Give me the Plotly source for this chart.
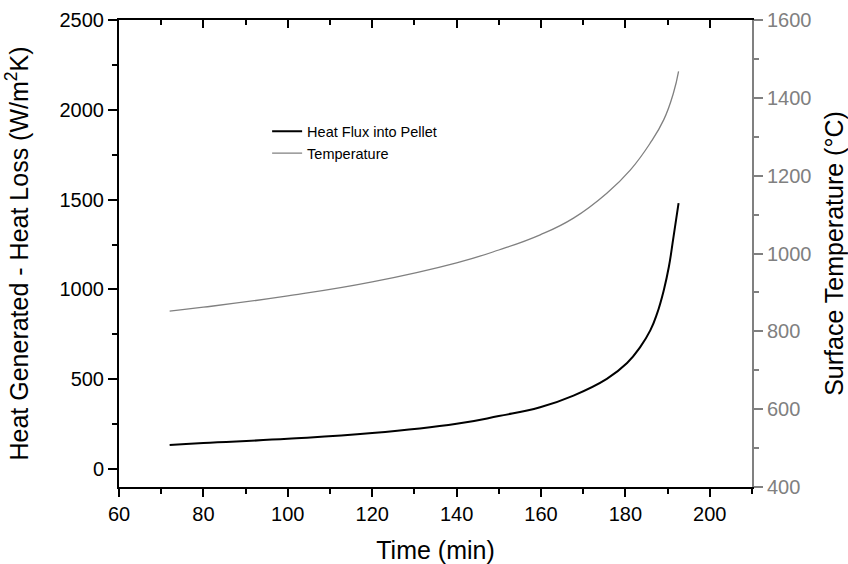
import plotly.graph_objects as go

time_flux = [72, 80, 100, 120, 140, 150, 159.8, 167.7, 175.6, 180.4, 183.5, 185.9, 187.5, 189.1, 190.3, 191.4, 192.6]
heat_flux = [134, 145, 168, 200, 252, 295, 344, 409, 502, 590, 679, 772, 865, 996, 1126, 1293, 1480]

time_temp = [72, 80, 100, 120, 140, 150, 159.8, 167.7, 175.6, 181.2, 185.9, 189.1, 191.4, 192.6]
temperature = [852, 862, 891, 927, 976, 1009, 1048, 1091, 1155, 1215, 1284, 1344, 1413, 1468]

FONT = "Liberation Sans, Arial, sans-serif"
GRAY = "#808080"

fig = go.Figure()
fig.add_trace(go.Scatter(x=time_flux, y=heat_flux, mode="lines", name="Heat Flux into Pellet",
                         line=dict(color="black", width=2, shape="spline", smoothing=1.3),
                         xaxis="x", yaxis="y"))
fig.add_trace(go.Scatter(x=time_temp, y=temperature, mode="lines", name="Temperature",
                         line=dict(color=GRAY, width=1.3, shape="spline", smoothing=1.3),
                         xaxis="x2", yaxis="y2"))

fig.update_layout(
    width=848, height=564,
    margin=dict(l=119, r=96, t=20, b=77),
    paper_bgcolor="white", plot_bgcolor="white",
    font=dict(family=FONT, color="black"),
    showlegend=True,
    legend=dict(x=0.234, y=0.796, xanchor="left", yanchor="top",
                bgcolor="rgba(0,0,0,0)", font=dict(size=14.5, family=FONT),
                tracegroupgap=0, itemwidth=30),
    xaxis=dict(range=[60, 210], dtick=20, tick0=60, showgrid=False, zeroline=False,
               showline=True, linecolor="black", linewidth=2, automargin=False,
               ticks="outside", ticklen=8, tickwidth=1.5, tickcolor="black",
               minor=dict(dtick=10, ticks="outside", ticklen=5, tickwidth=1.5, tickcolor="black"),
               tickfont=dict(size=20, family=FONT),
               title=dict(text="Time (min)", font=dict(size=25, family=FONT), standoff=20),
               anchor="y"),
    xaxis2=dict(range=[60, 210], dtick=20, tick0=60, overlaying="x", side="top", anchor="y2",
                showgrid=False, zeroline=False, showline=True, linecolor="black", linewidth=2,
                automargin=False,
                ticks="inside", ticklen=8, tickwidth=1.5, tickcolor="black",
                minor=dict(dtick=10, ticks="inside", ticklen=5, tickwidth=1.5, tickcolor="black"),
                showticklabels=False),
    yaxis=dict(range=[-100, 2500], dtick=500, tick0=0, showgrid=False, zeroline=False,
               showline=True, linecolor="black", linewidth=2, automargin=False,
               ticks="outside", ticklen=9, tickwidth=1.5, tickcolor="black",
               minor=dict(dtick=250, ticks="outside", ticklen=5, tickwidth=1.5, tickcolor="black"),
               tickfont=dict(size=20, family=FONT),
               title=dict(text="Heat Generated - Heat Loss (W/m<sup>2</sup>K)",
                          font=dict(size=25, family=FONT), standoff=24)),
    yaxis2=dict(range=[400, 1600], dtick=200, tick0=400, overlaying="y", side="right", anchor="x",
                showgrid=False, zeroline=False, showline=True, linecolor=GRAY, linewidth=2,
                automargin=False,
                ticks="outside", ticklen=9, tickwidth=1.5, tickcolor=GRAY,
                minor=dict(dtick=100, ticks="outside", ticklen=5, tickwidth=1.5, tickcolor=GRAY),
                tickfont=dict(size=20, family=FONT, color=GRAY),
                title=dict(text="Surface Temperature (°C)", font=dict(size=25, family=FONT, color="black"),
                           standoff=20)),
)

fig.write_html("out.html", config={"displayModeBar": False},
               post_script="document.body.style.margin='0';")
